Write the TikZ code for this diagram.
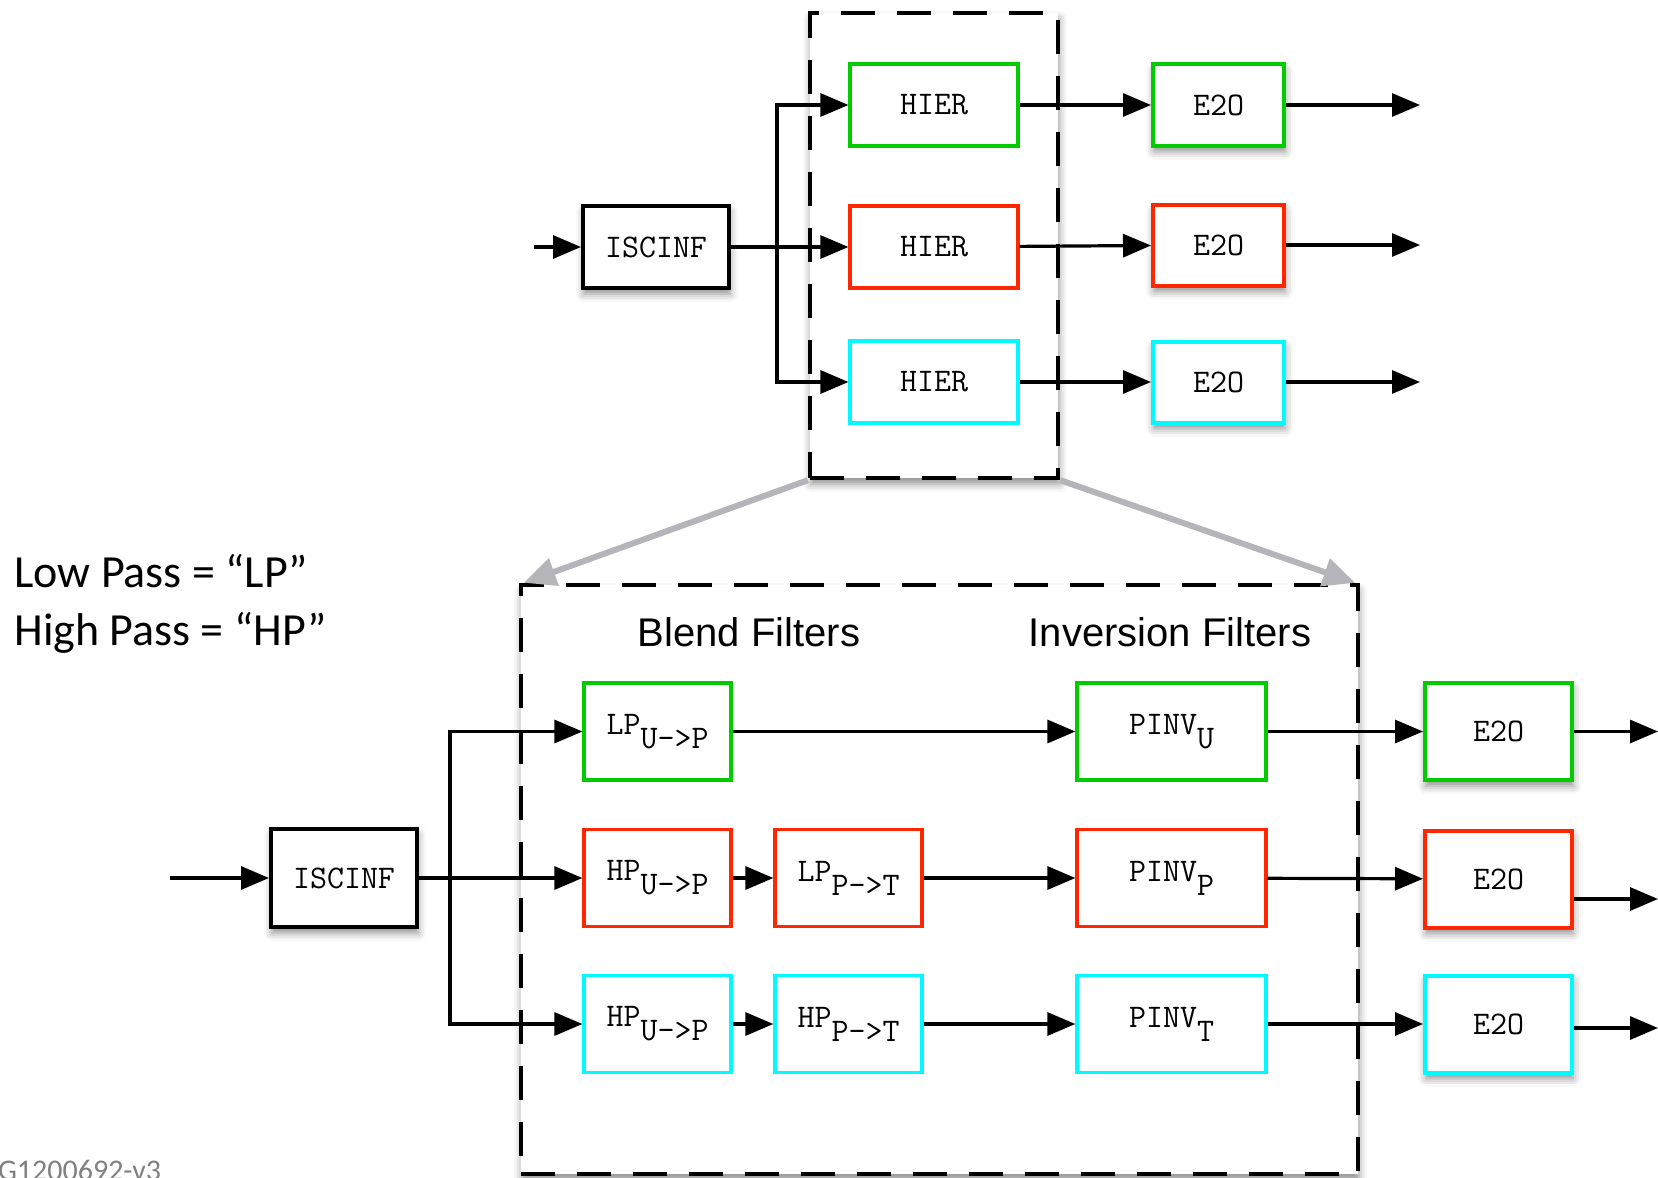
\documentclass[tikz,border=0pt]{standalone}
\usepackage{fontspec}
\setmainfont{Liberation Sans}
\newfontfamily\calfont{Carlito}
\usepackage{tikz}
\usetikzlibrary{arrows.meta,shadows.blur}
\definecolor{boxgreen}{RGB}{0,204,0}
\definecolor{boxred}{RGB}{255,38,0}
\definecolor{boxcyan}{RGB}{0,250,255}
\definecolor{zoomgray}{RGB}{180,180,186}
\newcommand{\lowtt}[2]{#1\raisebox{-7pt}{#2}}

\begin{document}
\begin{tikzpicture}[x=0.5pt,y=-0.5pt,
	box/.style={draw,line width=1.6pt,fill=white,inner sep=0pt,
		font=\ttfamily\fontsize{16.5}{19}\selectfont},
	shade box/.style={blur shadow={shadow xshift=0.5pt,shadow yshift=-3pt,
		shadow blur radius=4pt,shadow opacity=45}},
	blkbox/.style={box,line width=2pt,shade box},
	dbox/.style={draw,fill=white,line width=2.2pt,dash pattern=on 17pt off 11pt,shade box},
	arr/.style={line width=1.6pt,-{Triangle[length=14pt,width=11.5pt]}},
	zoomarr/.style={draw=zoomgray,line width=3pt,-{Triangle[length=16pt,width=14pt]}},
	head/.style={font=\fontsize{20}{24}\selectfont},
	note/.style={anchor=base west,inner sep=0pt,font=\calfont\fontsize{23}{27}\selectfont}]
	\useasboundingbox (0,0) rectangle (1658,1177);

	% dashed zoom frames
	\node[dbox,minimum width=124pt,minimum height=232.5pt] (zoomTop) at (934,245.5) {};
	\node[dbox,minimum width=418.5pt,minimum height=294.5pt] (zoomBot) at (939.5,879.5) {};
	\draw[zoomarr] (zoomTop.south west) -- ([xshift=2.5pt]zoomBot.north west);
	\draw[zoomarr] (zoomTop.south east) -- ([xshift=-2.5pt]zoomBot.north east);

	% top chain
	\node[blkbox,minimum width=73pt,minimum height=41pt] (isc1) at (656,247) {ISCINF};
	\node[box,draw=boxgreen,minimum width=84pt,minimum height=41pt] (hierG) at (934,105) {HIER};
	\node[box,draw=boxred,minimum width=84pt,minimum height=41pt] (hierR) at (934,247) {HIER};
	\node[box,draw=boxcyan,minimum width=84pt,minimum height=41pt] (hierC) at (934,382) {HIER};
	\node[blkbox,draw=boxgreen,minimum width=65.5pt,minimum height=40.5pt] (e2oG) at (1218.5,105) {E2O};
	\node[blkbox,draw=boxred,minimum width=65.5pt,minimum height=40.5pt] (e2oR) at (1218.5,245) {E2O};
	\node[blkbox,draw=boxcyan,minimum width=65.5pt,minimum height=40.5pt] (e2oC) at (1218.5,382) {E2O};
	\coordinate (in1) at (534,247);
	\coordinate (bus1) at (777,247);
	\coordinate (outG) at (1420,105);
	\coordinate (outR) at (1420,245);
	\coordinate (outC) at (1420,382);

	\draw[arr] (in1) -- (isc1);
	\draw[arr] (isc1) -- (hierR);
	\draw[arr] (bus1) |- (hierG);
	\draw[arr] (bus1) |- (hierC);
	\draw[arr] (hierG) -- (e2oG);
	\draw[arr] (hierR) -- (e2oR);
	\draw[arr] (hierC) -- (e2oC);
	\draw[arr] (e2oG) -- (outG);
	\draw[arr] (e2oR) -- (outR);
	\draw[arr] (e2oC) -- (outC);

	% notes and headings
	\node[note] (lpnote) at (14,587) {Low Pass = “LP”};
	\node[note] (hpnote) at (14,645) {High Pass = “HP”};
	\node[head] (blend) at (749,632) {Blend Filters};
	\node[head] (inver) at (1170,632) {Inversion Filters};
	\node[anchor=base west,text=gray,font=\calfont\fontsize{15}{18}\selectfont] (docnum) at (-9,1180) {G1200692-v3};

	% bottom chain
	\node[blkbox,minimum width=73pt,minimum height=49pt] (isc2) at (344,878) {ISCINF};
	\node[box,draw=boxgreen,minimum width=73.5pt,minimum height=48.5pt] (lpU) at (657.5,731.5) {\lowtt{LP}{U->P}};
	\node[box,draw=boxred,minimum width=73.5pt,minimum height=48.5pt] (hpU) at (657.5,878) {\lowtt{HP}{U->P}};
	\node[box,draw=boxcyan,minimum width=73.5pt,minimum height=48.5pt] (hpUc) at (657.5,1024) {\lowtt{HP}{U->P}};
	\node[box,draw=boxred,minimum width=73.5pt,minimum height=48.5pt] (lpPT) at (848.5,878) {\lowtt{LP}{P->T}};
	\node[box,draw=boxcyan,minimum width=73.5pt,minimum height=48.5pt] (hpPT) at (848.5,1024) {\lowtt{HP}{P->T}};
	\node[box,draw=boxgreen,minimum width=94.5pt,minimum height=48.5pt] (pinvU) at (1171.5,731.5) {\lowtt{PINV}{U}};
	\node[box,draw=boxred,minimum width=94.5pt,minimum height=48.5pt] (pinvP) at (1171.5,878) {\lowtt{PINV}{P}};
	\node[box,draw=boxcyan,minimum width=94.5pt,minimum height=48.5pt] (pinvT) at (1171.5,1024) {\lowtt{PINV}{T}};
	\node[blkbox,draw=boxgreen,minimum width=73.5pt,minimum height=48.5pt] (e2oBG) at (1498.5,731.5) {E2O};
	\node[blkbox,draw=boxred,minimum width=73.5pt,minimum height=48.5pt] (e2oBR) at (1498.5,879) {E2O};
	\node[blkbox,draw=boxcyan,minimum width=73.5pt,minimum height=48.5pt] (e2oBC) at (1498.5,1024) {E2O};
	\coordinate (in2) at (170,878);
	\coordinate (bus2) at (450,878);
	\coordinate (outBG) at (1658,731.5);
	\coordinate (outBR) at (1658,899);
	\coordinate (outBC) at (1658,1028);

	\draw[arr] (in2) -- (isc2);
	\draw[arr] (isc2) -- (hpU);
	\draw[arr] (bus2) |- (lpU);
	\draw[arr] (bus2) |- (hpUc);
	\draw[arr] (lpU) -- (pinvU);
	\draw[arr] (hpU) -- (lpPT);
	\draw[arr] (lpPT) -- (pinvP);
	\draw[arr] (hpUc) -- (hpPT);
	\draw[arr] (hpPT) -- (pinvT);
	\draw[arr] (pinvU) -- (e2oBG);
	\draw[arr] (pinvP) -- (e2oBR);
	\draw[arr] (pinvT) -- (e2oBC);
	\draw[arr] (e2oBG) -- (outBG);
	\draw[arr] (e2oBR.east |- outBR) -- (outBR);
	\draw[arr] (e2oBC.east |- outBC) -- (outBC);
\end{tikzpicture}
\end{document}
